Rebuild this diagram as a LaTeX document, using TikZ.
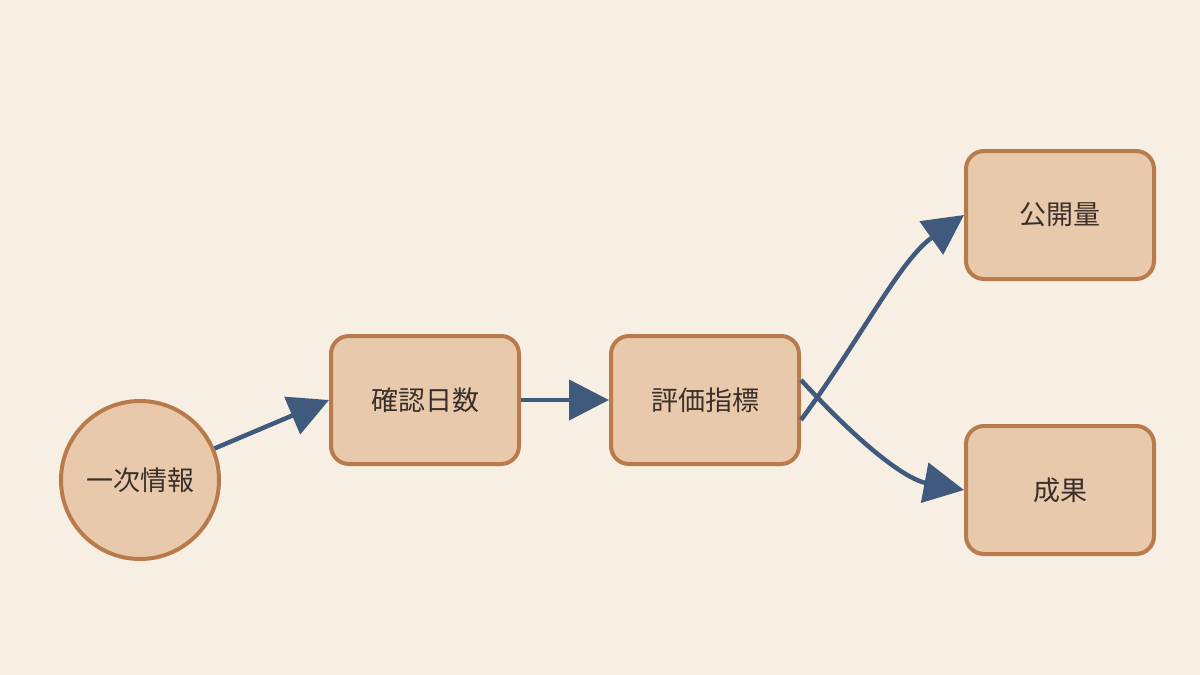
\documentclass[tikz,border=0pt]{standalone}
\usepackage{fontspec}
\newfontfamily\cjk{Noto Sans CJK JP}
\usetikzlibrary{arrows.meta}
\definecolor{bg}{HTML}{F7EFE3}
\definecolor{bd}{HTML}{B97A4C}
\definecolor{fl}{HTML}{E9C9AC}
\definecolor{ar}{HTML}{3F5A7D}
\definecolor{tx}{HTML}{3A3029}
\begin{document}
\begin{tikzpicture}[x=1pt,y=-1pt,
  box/.style={draw=bd,fill=fl,line width=4pt,rounded corners=18pt,minimum width=188pt,minimum height=128pt,font=\cjk\fontsize{27}{30}\selectfont,text=tx,inner sep=0pt},
  circ/.style={draw=bd,fill=fl,line width=4pt,circle,minimum size=158pt,font=\cjk\fontsize{27}{30}\selectfont,text=tx,inner sep=0pt},
  arr/.style={draw=ar,line width=4.5pt,-{Triangle[length=40pt,width=40pt]}}]
\fill[bg] (0,0) rectangle (1200,675);
\node[circ] (a) at (140,480) {一次情報};
\node[box] (b) at (425,400) {確認日数};
\node[box] (c) at (705,400) {評価指標};
\node[box] (d) at (1060,215) {公開量};
\node[box] (e) at (1060,490) {成果};
\draw[arr] (a) -- (b.west);
\draw[arr] (b) -- (c);
\draw[arr] ([yshift=-20pt]c.east) .. controls (860,340) and (900,260) .. (d.west);
\draw[arr] ([yshift=20pt]c.east) .. controls (870,455) and (910,480) .. (e.west);
\end{tikzpicture}
\end{document}
